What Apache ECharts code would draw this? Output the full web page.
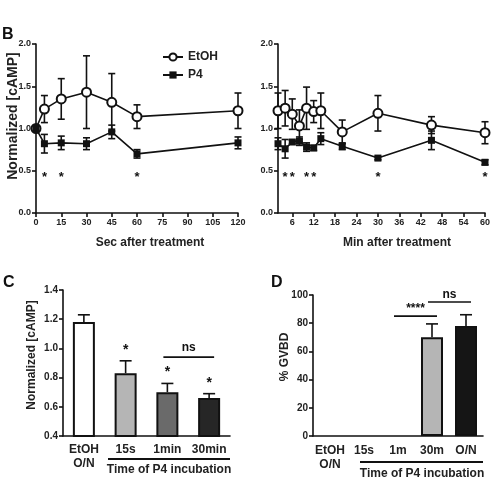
<!DOCTYPE html>
<html>
<head>
<meta charset="utf-8">
<script src="https://cdn.jsdelivr.net/npm/echarts@6/dist/echarts.min.js"></script>
<style>
html, body { margin: 0; padding: 0; background: #fff; }
#main { width: 492px; height: 482px; }
</style>
</head>
<body>
<div id="main"></div>
<script>
// B - seconds after treatment
var secX = [0, 5, 15, 30, 45, 60, 120];
var secEtoh = [1.0, 1.23, 1.35, 1.43, 1.31, 1.14, 1.21];
var secEtohErr = [0, 0.16, 0.24, 0.43, 0.34, 0.14, 0.21];
var secP4 = [1.0, 0.82, 0.83, 0.82, 0.96, 0.70, 0.83];
var secP4Err = [0, 0.11, 0.08, 0.07, 0.08, 0.05, 0.07];
var secStars = [5, 15, 60];

// B - minutes after treatment
var minX = [2, 4, 6, 8, 10, 12, 14, 20, 30, 45, 60];
var minEtoh = [1.21, 1.24, 1.17, 1.03, 1.24, 1.20, 1.21, 0.96, 1.18, 1.04, 0.95];
var minEtohErr = [0.21, 0.21, 0.18, 0.19, 0.25, 0.13, 0.21, 0.14, 0.21, 0.10, 0.13];
var minP4 = [0.82, 0.76, 0.84, 0.85, 0.78, 0.77, 0.88, 0.79, 0.65, 0.86, 0.60];
var minP4Err = [0.07, 0.11, 0.02, 0.05, 0.05, 0.03, 0.07, 0.04, 0.02, 0.11, 0.03];
var minStars = [4, 6, 10, 12, 30, 60];
var minTicks = [6, 12, 18, 24, 30, 36, 42, 48, 54, 60];
var starLevel = 0.46;

// C - cAMP bars
var cCats = ['EtOH\nO/N', '15s', '1min', '30min'];
var cVals = [1.18, 0.83, 0.70, 0.66];
var cErr = [0.05, 0.085, 0.06, 0.03];
var cStars = ['', '*', '*', '*'];
var cColors = ['#ffffff', '#b5b5b5', '#6a6a6a', '#262626'];
var cBrackets = [[2, 3, 0.94, 'ns']];

// D - GVBD bars
var dCats = ['EtOH\nO/N', '15s', '1m', '30m', 'O/N'];
var dVals = [0, 0, 0, 70, 78];
var dErr = [0, 0, 0, 9.5, 8];
var dColors = ['#ffffff', '#ffffff', '#ffffff', '#b5b5b5', '#151515'];
var dBrackets = [[2, 3, 85, '****'], [3, 4, 95, 'ns']];

var FONT = '"Liberation Sans", Arial, sans-serif';
var INK = '#111';

var chart = echarts.init(document.getElementById('main'));

function zip(xs, ys, es) {
	var out = [];
	for (var i = 0; i < xs.length; i++) out.push(es ? [xs[i], ys[i], es[i]] : [xs[i], ys[i]]);
	return out;
}

// error bar: vertical line + caps (onlyUp for bar charts)
function errRender(capHalf, onlyUp, withStar) {
	return function (params, api) {
		var x = api.value(0), y = api.value(1), e = api.value(2);
		if (!e) return null;
		var top = api.coord([x, y + e]);
		var bot = api.coord([x, onlyUp ? y : y - e]);
		var st = { stroke: INK, lineWidth: 1.6 };
		var kids = [
			{ type: 'line', shape: { x1: top[0], y1: top[1], x2: bot[0], y2: bot[1] }, style: st },
			{ type: 'line', shape: { x1: top[0] - capHalf, y1: top[1], x2: top[0] + capHalf, y2: top[1] }, style: st }
		];
		if (!onlyUp) {
			kids.push({ type: 'line', shape: { x1: bot[0] - capHalf, y1: bot[1], x2: bot[0] + capHalf, y2: bot[1] }, style: st });
		}
		if (withStar && withStar[params.dataIndex]) {
			kids.push({ type: 'text', x: top[0], y: top[1] - 4, style: {
				text: withStar[params.dataIndex], textAlign: 'center', textVerticalAlign: 'bottom',
				font: 'bold 14px ' + FONT, fill: INK } });
		}
		return { type: 'group', children: kids };
	};
}

function starRender(params, api) {
	var p = api.coord([api.value(0), api.value(1)]);
	return { type: 'text', x: p[0], y: p[1] + 3, style: {
		text: '*', textAlign: 'center', textVerticalAlign: 'middle', font: 'bold 13px ' + FONT, fill: INK } };
}

function bracketRender(gap) {
	return function (params, api) {
		var a = api.coord([api.value(0), api.value(2)]);
		var b = api.coord([api.value(1), api.value(2)]);
		var x1 = a[0] - 4, x2 = b[0] + 5;
		return { type: 'group', children: [
			{ type: 'line', shape: { x1: x1, y1: a[1], x2: x2, y2: a[1] }, style: { stroke: INK, lineWidth: 1.6 } },
			{ type: 'text', x: (x1 + x2) / 2, y: a[1] - gap, style: {
				text: api.value(3), textAlign: 'center', textVerticalAlign: 'bottom', font: 'bold 12px ' + FONT, fill: INK } }
		] };
	};
}

var axisLine = { lineStyle: { color: INK, width: 1.6 } };
var axisTick = { length: 4, lineStyle: { color: INK, width: 1.6 } };
var smallLab = { color: '#222', fontSize: 9, fontWeight: 'bold', fontFamily: FONT, margin: 5 };
var bigLab = { color: '#222', fontSize: 10, fontWeight: 'bold', fontFamily: FONT, margin: 5 };
var catLab = { color: '#222', fontSize: 12, fontWeight: 'bold', fontFamily: FONT, margin: 7, lineHeight: 14, interval: 0 };
var fix1 = function (v) { return v.toFixed(1); };

function barData(vals, colors) {
	return vals.map(function (v, i) {
		return { value: v, itemStyle: { color: colors[i], borderColor: INK, borderWidth: v ? 2 : 0 } };
	});
}

var option = {
	animation: false,
	backgroundColor: '#fff',
	grid: [
		{ left: 36, top: 44, width: 202, height: 169, containLabel: false, outerBoundsMode: 'none' },
		{ left: 278, top: 44, width: 207, height: 169, containLabel: false, outerBoundsMode: 'none' },
		{ left: 63, top: 290, width: 167, height: 146, containLabel: false, outerBoundsMode: 'none' },
		{ left: 313, top: 295, width: 170, height: 141, containLabel: false, outerBoundsMode: 'none' }
	],
	xAxis: [
		{ gridIndex: 0, type: 'value', min: 0, max: 120, interval: 15, axisLine: axisLine, axisTick: axisTick,
			axisLabel: smallLab, splitLine: { show: false } },
		{ gridIndex: 1, type: 'value', min: 2, max: 60, axisLine: axisLine,
			axisTick: Object.assign({ customValues: minTicks }, axisTick),
			axisLabel: Object.assign({ customValues: minTicks }, smallLab), splitLine: { show: false } },
		{ gridIndex: 2, type: 'category', data: cCats, axisLine: axisLine,
			axisTick: Object.assign({ alignWithLabel: true, interval: 0 }, axisTick), axisLabel: catLab },
		{ gridIndex: 3, type: 'category', data: dCats, axisLine: axisLine,
			axisTick: Object.assign({ alignWithLabel: true, interval: 0 }, axisTick), axisLabel: Object.assign({}, catLab, { margin: 8 }) }
	],
	yAxis: [
		{ gridIndex: 0, type: 'value', min: 0, max: 2, interval: 0.5, axisLine: { show: true, lineStyle: axisLine.lineStyle },
			axisTick: { show: true, length: 4, lineStyle: axisTick.lineStyle },
			axisLabel: Object.assign({ formatter: fix1 }, smallLab), splitLine: { show: false } },
		{ gridIndex: 1, type: 'value', min: 0, max: 2, interval: 0.5, axisLine: { show: true, lineStyle: axisLine.lineStyle },
			axisTick: { show: true, length: 4, lineStyle: axisTick.lineStyle },
			axisLabel: Object.assign({ formatter: fix1 }, smallLab), splitLine: { show: false } },
		{ gridIndex: 2, type: 'value', min: 0.4, max: 1.4, interval: 0.2, axisLine: { show: true, lineStyle: axisLine.lineStyle },
			axisTick: { show: true, length: 4, lineStyle: axisTick.lineStyle },
			axisLabel: Object.assign({ formatter: fix1 }, bigLab), splitLine: { show: false } },
		{ gridIndex: 3, type: 'value', min: 0, max: 100, interval: 20, axisLine: { show: true, lineStyle: axisLine.lineStyle },
			axisTick: { show: true, length: 4, lineStyle: axisTick.lineStyle },
			axisLabel: bigLab, splitLine: { show: false } }
	],
	legend: {
		data: ['EtOH', 'P4'], orient: 'vertical', left: 157, top: 46, itemWidth: 20, itemHeight: 9, itemGap: 6,
		textStyle: { fontSize: 12, fontWeight: 'bold', fontFamily: FONT, color: '#222' }, selectedMode: false
	},
	series: [
		// B left
		{ type: 'custom', xAxisIndex: 0, yAxisIndex: 0, z: 1, renderItem: errRender(3.5, false), data: zip(secX, secEtoh, secEtohErr) },
		{ type: 'custom', xAxisIndex: 0, yAxisIndex: 0, z: 1, renderItem: errRender(3.5, false), data: zip(secX, secP4, secP4Err) },
		{ name: 'EtOH', type: 'line', xAxisIndex: 0, yAxisIndex: 0, z: 3, data: zip(secX, secEtoh),
			symbol: 'emptyCircle', symbolSize: 9, lineStyle: { color: INK, width: 1.6 },
			itemStyle: { color: INK, borderColor: INK, borderWidth: 1.5 } },
		{ name: 'P4', type: 'line', xAxisIndex: 0, yAxisIndex: 0, z: 3, data: zip(secX, secP4),
			symbol: 'rect', symbolSize: 7, lineStyle: { color: INK, width: 1.6 }, itemStyle: { color: INK } },
		{ type: 'custom', xAxisIndex: 0, yAxisIndex: 0, renderItem: starRender,
			data: secStars.map(function (x) { return [x, starLevel]; }) },
		// B right
		{ type: 'custom', xAxisIndex: 1, yAxisIndex: 1, z: 1, renderItem: errRender(3.5, false), data: zip(minX, minEtoh, minEtohErr) },
		{ type: 'custom', xAxisIndex: 1, yAxisIndex: 1, z: 1, renderItem: errRender(3.5, false), data: zip(minX, minP4, minP4Err) },
		{ name: 'EtOH', type: 'line', xAxisIndex: 1, yAxisIndex: 1, z: 3, data: zip(minX, minEtoh),
			symbol: 'emptyCircle', symbolSize: 9, lineStyle: { color: INK, width: 1.6 },
			itemStyle: { color: INK, borderColor: INK, borderWidth: 1.5 } },
		{ name: 'P4', type: 'line', xAxisIndex: 1, yAxisIndex: 1, z: 3, data: zip(minX, minP4),
			symbol: 'rect', symbolSize: 7, lineStyle: { color: INK, width: 1.6 }, itemStyle: { color: INK } },
		{ type: 'custom', xAxisIndex: 1, yAxisIndex: 1, renderItem: starRender,
			data: minStars.map(function (x) { return [x, starLevel]; }) },
		// C
		{ type: 'bar', xAxisIndex: 2, yAxisIndex: 2, barWidth: 22, data: barData(cVals, cColors) },
		{ type: 'custom', xAxisIndex: 2, yAxisIndex: 2, z: 3, renderItem: errRender(6, true, cStars),
			data: zip(cCats.map(function (c, i) { return i; }), cVals, cErr) },
		{ type: 'custom', xAxisIndex: 2, yAxisIndex: 2, renderItem: bracketRender(3), data: cBrackets },
		// D
		{ type: 'bar', xAxisIndex: 3, yAxisIndex: 3, barWidth: 22, data: barData(dVals, dColors) },
		{ type: 'custom', xAxisIndex: 3, yAxisIndex: 3, z: 3, renderItem: errRender(6, true),
			data: zip(dCats.map(function (c, i) { return i; }), dVals, dErr) },
		{ type: 'custom', xAxisIndex: 3, yAxisIndex: 3, renderItem: bracketRender(1), data: dBrackets }
	],
	graphic: [
		{ type: 'text', left: 2, top: 27, style: { text: 'B', font: 'bold 16px ' + FONT, fill: INK } },
		{ type: 'text', left: 3, top: 275, style: { text: 'C', font: 'bold 16px ' + FONT, fill: INK } },
		{ type: 'text', left: 271, top: 275, style: { text: 'D', font: 'bold 16px ' + FONT, fill: INK } },
		{ type: 'text', x: 13, y: 116, rotation: Math.PI / 2, style: { text: 'Normalized [cAMP]',
			textAlign: 'center', textVerticalAlign: 'middle', font: 'bold 14px ' + FONT, fill: '#222' } },
		{ type: 'text', x: 32, y: 355, rotation: Math.PI / 2, style: { text: 'Normalized [cAMP]',
			textAlign: 'center', textVerticalAlign: 'middle', font: 'bold 12px ' + FONT, fill: '#222' } },
		{ type: 'text', x: 285, y: 357, rotation: Math.PI / 2, style: { text: '% GVBD',
			textAlign: 'center', textVerticalAlign: 'middle', font: 'bold 12px ' + FONT, fill: '#222' } },
		{ type: 'text', x: 150, y: 243, style: { text: 'Sec after treatment',
			textAlign: 'center', textVerticalAlign: 'middle', font: 'bold 12px ' + FONT, fill: '#222' } },
		{ type: 'text', x: 397, y: 243, style: { text: 'Min after treatment',
			textAlign: 'center', textVerticalAlign: 'middle', font: 'bold 12px ' + FONT, fill: '#222' } },
		{ type: 'line', shape: { x1: 108, y1: 459, x2: 230, y2: 459 }, style: { stroke: INK, lineWidth: 2 } },
		{ type: 'line', shape: { x1: 360, y1: 462, x2: 483, y2: 462 }, style: { stroke: INK, lineWidth: 2 } },
		{ type: 'text', x: 169, y: 470, style: { text: 'Time of P4 incubation',
			textAlign: 'center', textVerticalAlign: 'middle', font: 'bold 12px ' + FONT, fill: '#222' } },
		{ type: 'text', x: 422, y: 474, style: { text: 'Time of P4 incubation',
			textAlign: 'center', textVerticalAlign: 'middle', font: 'bold 12px ' + FONT, fill: '#222' } }
	]
};

chart.setOption(option);
</script>
</body>
</html>
